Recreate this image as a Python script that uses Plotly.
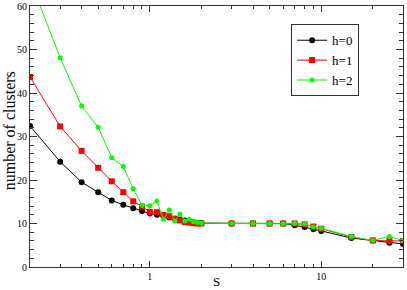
import plotly.graph_objects as go

s = [0.2, 0.3, 0.4, 0.5, 0.6, 0.7, 0.8, 0.9, 1.0, 1.1, 1.2, 1.3, 1.4, 1.5, 1.6, 1.7, 1.8, 1.9, 2.0,
     3, 4, 5, 6, 7, 8, 9, 10, 15, 20, 25, 30]
h0 = [32.4, 24.2, 19.5, 17.2, 15.3, 14.3, 13.5, 12.9, 12.3, 12.0, 11.7, 11.4, 11.1, 10.9, 10.7, 10.5, 10.3, 10.2, 10.1,
      10.0, 10.0, 10.0, 10.0, 9.6, 9.2, 8.65, 8.3, 6.65, 6.1, 5.6, 5.3]
h1 = [43.7, 32.3, 26.7, 22.8, 19.7, 17.2, 15.1, 13.9, 12.7, 12.6, 12.0, 11.7, 11.1, 10.7, 10.3, 10.2, 10.1, 10.0, 10.0,
      10.0, 10.0, 10.0, 10.0, 10.0, 9.8, 9.3, 8.8, 6.9, 6.1, 6.0, 6.0]
h2 = [66.0, 48.1, 37.0, 32.1, 25.1, 23.1, 18.0, 14.2, 14.1, 15.1, 11.0, 13.1, 10.6, 12.2, 10.6, 11.0, 10.4, 10.25, 10.1,
      10.0, 10.0, 10.0, 10.0, 10.0, 9.9, 9.2, 8.9, 7.0, 6.1, 7.0, 6.1]

x_major = [1, 10]
x_labels = ["1", "10"]
x_minor = [0.2, 0.3, 0.4, 0.5, 0.6, 0.7, 0.8, 0.9, 2, 3, 4, 5, 6, 7, 8, 9, 20, 30]

serif = "Liberation Serif"
axc = "#333333"

fig = go.Figure()
fig.add_trace(go.Scatter(x=s, y=h0, name="h=0", mode="lines+markers",
                         line=dict(color="black", width=1),
                         marker=dict(symbol="circle", size=6, color="black")))
fig.add_trace(go.Scatter(x=s, y=h1, name="h=1", mode="lines+markers",
                         line=dict(color="#ff0000", width=1),
                         marker=dict(symbol="square", size=6, color="#ff0000")))
fig.add_trace(go.Scatter(x=s, y=h2, name="h=2", mode="lines+markers",
                         line=dict(color="#00ff00", width=1),
                         marker=dict(symbol="circle", size=5, color="#00ff00")))

fig.update_layout(
    width=407, height=290,
    margin=dict(l=30, r=4, t=6, b=23),
    paper_bgcolor="white", plot_bgcolor="white",
    font=dict(family=serif, size=10, color="black"),
    legend=dict(x=0.70, y=0.93, xanchor="left", yanchor="top",
                bordercolor=axc, borderwidth=1, bgcolor="white",
                font=dict(family=serif, size=13), itemwidth=30,
                tracegroupgap=0),
    showlegend=True,
    annotations=[
        dict(text="S", xref="paper", yref="paper", x=(216 - 30) / 373, y=-0.054,
             xanchor="center", yanchor="middle", showarrow=False,
             font=dict(family=serif, size=13)),
        dict(text="number of clusters", xref="paper", yref="paper", x=-0.0563, y=0.52,
             xanchor="center", yanchor="middle", textangle=-90, showarrow=False,
             font=dict(family=serif, size=16)),
    ],
)
fig.update_xaxes(type="log", range=[-0.69897, 1.4771], automargin=False,
                 tickvals=x_major, ticktext=x_labels,
                 ticks="inside", ticklen=6, tickcolor=axc,
                 showline=True, linecolor=axc, linewidth=1, mirror="ticks",
                 showgrid=False, zeroline=False,
                 minor=dict(tickvals=x_minor, ticks="inside", ticklen=3, tickcolor=axc, showgrid=False))
fig.update_yaxes(range=[0, 60], dtick=10, automargin=False,
                 ticks="inside", ticklen=7, tickcolor=axc,
                 showline=True, linecolor=axc, linewidth=1, mirror="ticks",
                 showgrid=False, zeroline=False,
                 minor=dict(dtick=2, ticks="inside", ticklen=4, tickcolor=axc, showgrid=False))

fig.write_html("out.html", config={"displayModeBar": False},
               post_script="document.body.style.margin='0';document.body.style.overflow='hidden';")
